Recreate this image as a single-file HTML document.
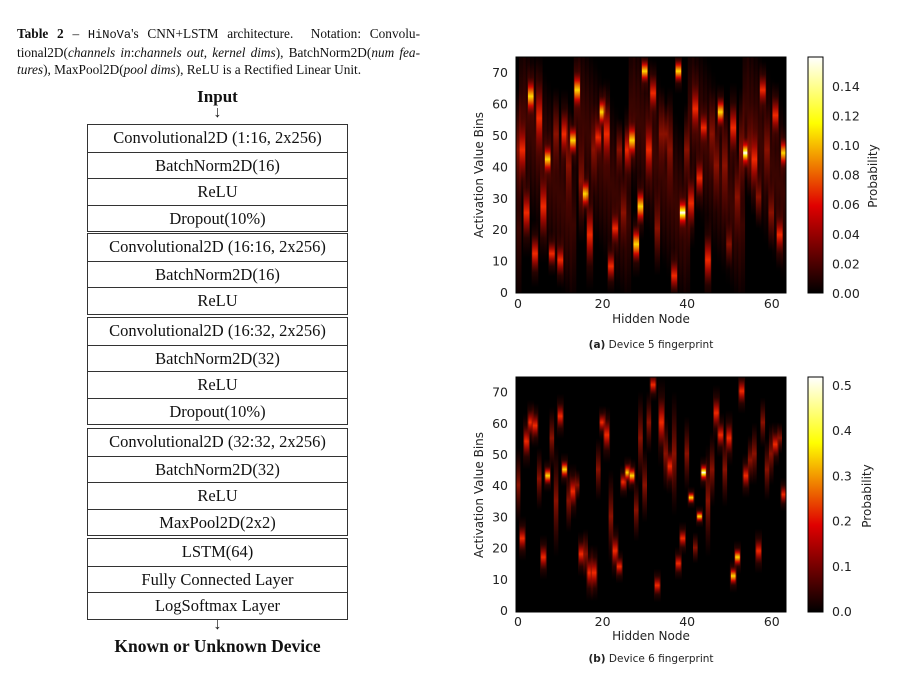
<!DOCTYPE html>
<html><head><meta charset="utf-8">
<style>
body{margin:0;background:#fff;width:903px;height:675px;position:relative;overflow:hidden;font-family:"Liberation Serif",serif;color:#111}
.cap{position:absolute;left:17px;top:25px;width:403px;font-size:13.3px;line-height:17px;text-align:justify}
.cap .l{display:block;text-align-last:justify;white-space:nowrap}
.mono{font-family:"Liberation Mono",monospace;font-size:12px}
.c{position:absolute;left:87px;width:261px;text-align:center}
.box{position:absolute;left:87px;width:259px;border:1px solid #333}
.row{height:26.5px;line-height:26.5px;text-align:center;font-size:16.5px;border-top:1px solid #333;box-sizing:border-box}
.row:first-child{border-top:none}
.ttl{font-weight:bold;font-size:17px}
svg text{font-family:"DejaVu Sans","Liberation Sans",sans-serif}
</style></head><body>
<div class="cap"><span class="l"><b>Table 2</b> – <span class="mono">HiNoVa</span>'s CNN+LSTM architecture. &nbsp;Notation: Convolu-</span><span class="l">tional2D(<i>channels in</i>:<i>channels out</i>, <i>kernel dims</i>), BatchNorm2D(<i>num fea-</i></span><span><i>tures</i>), MaxPool2D(<i>pool dims</i>), ReLU is a Rectified Linear Unit.</span></div>
<div class="c ttl" style="top:87px">Input</div>
<div class="c" style="top:104px;font-size:16px">↓</div>
<div class="box" style="top:124px"><div class="row">Convolutional2D (1:16, 2x256)</div><div class="row">BatchNorm2D(16)</div><div class="row">ReLU</div><div class="row">Dropout(10%)</div></div>
<div class="box" style="top:233px"><div class="row">Convolutional2D (16:16, 2x256)</div><div class="row">BatchNorm2D(16)</div><div class="row">ReLU</div></div>
<div class="box" style="top:317px"><div class="row">Convolutional2D (16:32, 2x256)</div><div class="row">BatchNorm2D(32)</div><div class="row">ReLU</div><div class="row">Dropout(10%)</div></div>
<div class="box" style="top:428px"><div class="row">Convolutional2D (32:32, 2x256)</div><div class="row">BatchNorm2D(32)</div><div class="row">ReLU</div><div class="row">MaxPool2D(2x2)</div></div>
<div class="box" style="top:538px"><div class="row">LSTM(64)</div><div class="row">Fully Connected Layer</div><div class="row">LogSoftmax Layer</div></div>
<div class="c" style="top:616px;font-size:16px">↓</div>
<div class="c ttl" style="top:636px;font-size:17.5px">Known or Unknown Device</div>

<svg width="903" height="675" style="position:absolute;left:0;top:0" xmlns="http://www.w3.org/2000/svg">
<defs>
<linearGradient id="hot" x1="0" y1="1" x2="0" y2="0"><stop offset="0" stop-color="#000"/><stop offset="0.37" stop-color="#e00000"/><stop offset="0.72" stop-color="#ffff00"/><stop offset="1" stop-color="#ffffff"/></linearGradient>
<linearGradient id="g0" x1="0" y1="0" x2="0" y2="1"><stop offset="0" stop-color="#300000" stop-opacity="0"/><stop offset="0.5" stop-color="#3a0400"/><stop offset="1" stop-color="#300000" stop-opacity="0"/></linearGradient>
<linearGradient id="g1" x1="0" y1="0" x2="0" y2="1"><stop offset="0" stop-color="#500000" stop-opacity="0"/><stop offset="0.5" stop-color="#8a1000"/><stop offset="1" stop-color="#500000" stop-opacity="0"/></linearGradient>
<linearGradient id="g2" x1="0" y1="0" x2="0" y2="1"><stop offset="0" stop-color="#600000" stop-opacity="0"/><stop offset="0.3" stop-color="#a00800"/><stop offset="0.5" stop-color="#f02800"/><stop offset="0.7" stop-color="#a00800"/><stop offset="1" stop-color="#600000" stop-opacity="0"/></linearGradient>
<linearGradient id="g3" x1="0" y1="0" x2="0" y2="1"><stop offset="0" stop-color="#700000" stop-opacity="0"/><stop offset="0.25" stop-color="#d00800"/><stop offset="0.5" stop-color="#ffd800"/><stop offset="0.75" stop-color="#d00800"/><stop offset="1" stop-color="#700000" stop-opacity="0"/></linearGradient>
<linearGradient id="g4" x1="0" y1="0" x2="0" y2="1"><stop offset="0" stop-color="#800000" stop-opacity="0"/><stop offset="0.25" stop-color="#e00000"/><stop offset="0.42" stop-color="#ffee00"/><stop offset="0.5" stop-color="#ffffff"/><stop offset="0.58" stop-color="#ffee00"/><stop offset="0.75" stop-color="#e00000"/><stop offset="1" stop-color="#800000" stop-opacity="0"/></linearGradient>
</defs>
<svg id="pa" x="516" y="57" width="270" height="236" viewBox="-0.5 0 64 75" preserveAspectRatio="none"><rect x="-0.5" y="0" width="64" height="75" fill="#000"/></svg>
<rect x="516" y="57" width="270" height="236" fill="none" stroke="#000" stroke-width="1"/>
<g font-size="12.5" fill="#222" text-anchor="end">
<text x="508" y="297">0</text><text x="508" y="265.6">10</text><text x="508" y="234.2">20</text><text x="508" y="202.8">30</text><text x="508" y="171.4">40</text><text x="508" y="140">50</text><text x="508" y="108.6">60</text><text x="508" y="77.2">70</text></g>
<g font-size="12.5" fill="#222" text-anchor="middle">
<text x="518" y="308">0</text><text x="602.6" y="308">20</text><text x="687.2" y="308">40</text><text x="771.8" y="308">60</text>
<text x="651" y="323" font-size="12">Hidden Node</text></g>
<text transform="translate(483,175) rotate(-90)" font-size="12" text-anchor="middle" fill="#222" font-family="Liberation Sans">Activation Value Bins</text>
<rect x="808" y="57" width="15" height="236" fill="url(#hot)" stroke="#000" stroke-width="1"/>
<g font-size="12.5" fill="#222">
<text x="832" y="298">0.00</text><text x="832" y="268.4">0.02</text><text x="832" y="238.8">0.04</text><text x="832" y="209.2">0.06</text><text x="832" y="179.6">0.08</text><text x="832" y="150">0.10</text><text x="832" y="120.4">0.12</text><text x="832" y="90.8">0.14</text></g>
<text transform="translate(877,176) rotate(-90)" font-size="12" text-anchor="middle" fill="#222" font-family="Liberation Sans">Probability</text>
<text x="651" y="348" font-size="10.5" text-anchor="middle" font-family="Liberation Serif" fill="#222"><tspan font-weight="bold">(a)</tspan> Device 5 fingerprint</text>

<svg id="pb" x="516" y="377" width="270" height="235" viewBox="-0.5 0 64 75" preserveAspectRatio="none"><rect x="-0.5" y="0" width="64" height="75" fill="#000"/></svg>
<rect x="516" y="377" width="270" height="235" fill="none" stroke="#000" stroke-width="1"/>
<g font-size="12.5" fill="#222" text-anchor="end">
<text x="508" y="615">0</text><text x="508" y="583.8">10</text><text x="508" y="552.6">20</text><text x="508" y="521.4">30</text><text x="508" y="490.2">40</text><text x="508" y="459">50</text><text x="508" y="427.8">60</text><text x="508" y="396.6">70</text></g>
<g font-size="12.5" fill="#222" text-anchor="middle">
<text x="518" y="626">0</text><text x="602.6" y="626">20</text><text x="687.2" y="626">40</text><text x="771.8" y="626">60</text>
<text x="651" y="640" font-size="12">Hidden Node</text></g>
<text transform="translate(483,495) rotate(-90)" font-size="12" text-anchor="middle" fill="#222" font-family="Liberation Sans">Activation Value Bins</text>
<rect x="808" y="377" width="15" height="235" fill="url(#hot)" stroke="#000" stroke-width="1"/>
<g font-size="12.5" fill="#222">
<text x="832" y="616">0.0</text><text x="832" y="570.8">0.1</text><text x="832" y="525.6">0.2</text><text x="832" y="480.4">0.3</text><text x="832" y="435.2">0.4</text><text x="832" y="390">0.5</text></g>
<text transform="translate(871,496) rotate(-90)" font-size="12" text-anchor="middle" fill="#222" font-family="Liberation Sans">Probability</text>
<text x="651" y="662" font-size="10.5" text-anchor="middle" font-family="Liberation Serif" fill="#222"><tspan font-weight="bold">(b)</tspan> Device 6 fingerprint</text>
</svg>
<script>
var A=[[0,45,20,1],[1,45,10,2],[2,25,8,2],[3,62,6,3],[4,12,6,2],[5,55,12,2],[6,27,10,2],[7,42,5,3],[8,12,4,2],[9,50,15,1],[10,10,5,2],[11,50,8,2],[12,40,20,1],[13,48,5,3],[14,64,6,3],[15,35,20,1],[16,31,5,3],[17,18,10,2],[18,45,15,1],[19,49,6,2],[20,57,5,3],[21,50,10,2],[22,8,5,2],[23,20,5,2],[24,45,10,1],[25,25,12,1],[26,45,8,2],[27,48,6,3],[28,15,6,3],[29,27,6,3],[30,70,4,3],[31,45,10,2],[32,63,6,2],[33,20,15,1],[34,50,15,1],[35,50,10,1],[36,45,20,1],[37,5,5,2],[38,70,4,3],[39,25,5,4],[40,45,15,1],[41,28,8,2],[42,58,8,2],[43,36,6,2],[44,52,5,2],[45,10,8,2],[46,50,15,1],[47,40,15,1],[48,57,5,3],[49,40,20,1],[50,15,8,1],[51,52,8,2],[52,30,15,1],[53,45,20,1],[54,44,5,4],[55,45,15,1],[56,42,10,2],[57,30,10,1],[58,64,5,2],[59,45,15,1],[60,25,12,1],[61,56,6,2],[62,18,6,2],[63,44,5,3]];
var B=[[0,40,12,1],[1,23,4,2],[2,54,5,2],[3,60,4,2],[4,59,4,2],[5,42,10,1],[6,17,4,2],[7,43,3,3],[8,55,10,1],[9,35,18,1],[10,62,4,2],[11,45,3,3],[12,35,10,1],[13,38,5,2],[14,40,5,1],[15,18,4,2],[16,18,8,1],[17,12,5,2],[18,12,5,2],[19,45,10,1],[20,60,3,2],[21,56,5,2],[22,30,15,1],[23,19,5,2],[24,14,3,2],[25,41,3,2],[26,44,3,3],[27,43,3,3],[28,32,10,1],[29,55,15,1],[30,40,12,1],[31,60,10,1],[32,72,3,2],[33,8,3,2],[34,60,8,2],[35,50,12,1],[36,46,5,2],[37,50,20,1],[38,15,3,2],[39,23,3,2],[40,50,12,1],[41,36,2,3],[42,20,5,1],[43,30,2,3],[44,44,3,4],[45,35,18,1],[46,45,12,1],[47,63,5,2],[48,56,4,2],[49,45,12,1],[50,55,5,2],[51,11,3,3],[52,17,3,3],[53,70,4,2],[54,43,4,2],[55,48,8,1],[56,50,10,1],[57,19,4,2],[58,60,8,1],[59,45,10,1],[60,50,10,1],[61,53,4,2],[62,55,5,1],[63,37,3,2]];
var ns="http://www.w3.org/2000/svg";
function R(s,x,w,y,h,f,o){var r=document.createElementNS(ns,"rect");r.setAttribute("x",x);r.setAttribute("width",w);r.setAttribute("y",y);r.setAttribute("height",h);r.setAttribute("fill",f);if(o)r.setAttribute("opacity",o);s.appendChild(r);}
function draw(id,L,haze,w){var s=document.getElementById(id);
if(haze){for(var i=0;i<64;i++){var c=20+((i*37)%40);R(s,i-0.8,1.6,74.5-c-28,56,"url(#g0)");}}
L.forEach(function(t){var h=t[2];if(t[3]>1)R(s,t[0]-0.8,1.6,74.5-t[1]-h*1.8,h*3.6,"url(#g1)",0.8);R(s,t[0]-w/2,w,74.5-t[1]-h,2*h,"url(#g"+t[3]+")");});}
draw("pa",A,true,1.3);draw("pb",B,false,1.1);
</script>
</body></html>
